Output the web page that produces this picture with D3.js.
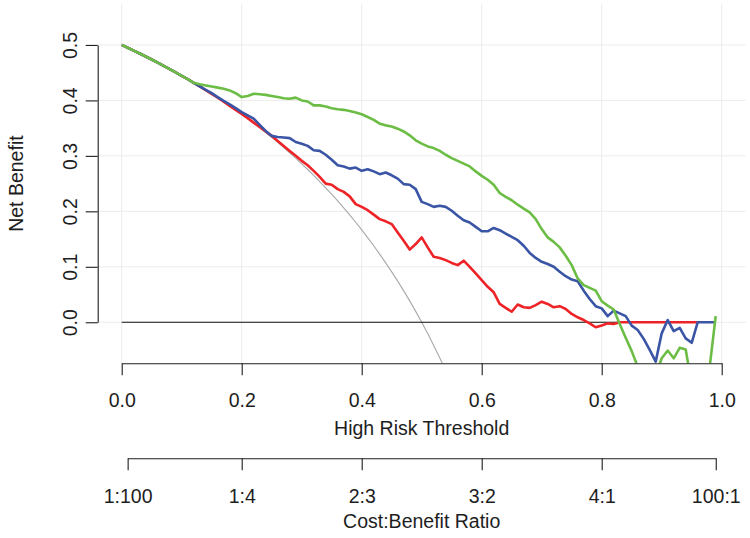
<!DOCTYPE html>
<html><head><meta charset="utf-8">
<script src="https://cdn.jsdelivr.net/npm/d3@7"></script>
<style>html,body{margin:0;padding:0;background:#fff;}svg{display:block;}</style>
</head><body>
<script>
const thresholds = [0,0.01,0.02,0.03,0.04,0.05,0.06,0.07,0.08,0.09,0.1,0.11,0.12,0.13,0.14,0.15,0.16,0.17,0.18,0.19,0.2,0.21,0.22,0.23,0.24,0.25,0.26,0.27,0.28,0.29,0.3,0.31,0.32,0.33,0.34,0.35,0.36,0.37,0.38,0.39,0.4,0.41,0.42,0.43,0.44,0.45,0.46,0.47,0.48,0.49,0.5,0.51,0.52,0.53,0.54,0.55,0.56,0.57,0.58,0.59,0.6,0.61,0.62,0.63,0.64,0.65,0.66,0.67,0.68,0.69,0.7,0.71,0.72,0.73,0.74,0.75,0.76,0.77,0.78,0.79,0.8,0.81,0.82,0.83,0.84,0.85,0.86,0.87,0.88,0.89,0.9,0.91,0.92,0.93,0.94,0.95,0.96,0.97,0.98,0.99];

const treatAll = [0.5,0.4949,0.4898,0.4845,0.4792,0.4737,0.4681,0.4624,0.4565,0.4505,0.4444,0.4382,0.4318,0.4253,0.4186,0.4118,0.4048,0.3976,0.3902,0.3827,0.375,0.3671,0.359,0.3506,0.3421,0.3333,0.3243,0.3151,0.3056,0.2958,0.2857,0.2754,0.2647,0.2537,0.2424,0.2308,0.2188,0.2063,0.1935,0.1803,0.1667,0.1525,0.1379,0.1228,0.1071,0.0909,0.0741,0.0566,0.0385,0.0196,0,-0.0204,-0.0417,-0.0638,-0.087,-0.1111];

const treatNone = 0;

const redValues = [0.5,0.4949,0.4898,0.4845,0.4792,0.4737,0.4681,0.4624,0.4565,0.4505,0.4444,0.4382,0.4318,
0.4253,0.4186,0.4118,0.4048,0.3976,0.3902,0.3827,0.3755,0.368,0.360,0.352,0.344,0.336,0.327,0.318,0.309,0.300,
0.291,0.283,0.273,0.262,0.250,0.248,0.240,0.235,0.227,0.213,0.208,0.202,0.194,0.186,0.182,0.177,0.162,0.147,0.131,0.141,
0.153,0.135,0.118,0.116,0.112,0.107,0.103,0.111,0.100,0.088,
0.076,0.064,0.054,0.033,0.026,0.019,0.032,0.027,0.026,0.031,
0.037,0.033,0.027,0.029,0.024,0.015,0.009,0.004,-0.002,-0.009,
-0.006,-0.002,-0.003,0,0,0,0,0,0,0,
0,0,0,0,0,0,0];

const blueValues = [0.5,0.4949,0.4898,0.4845,0.4792,0.4737,0.4681,0.4624,0.4565,0.4505,0.4444,0.4382,0.4318,
0.4255,0.419,0.413,0.406,0.399,0.393,0.386,0.379,0.373,0.367,0.356,0.345,0.336,0.334,0.333,0.332,0.325,
0.322,0.318,0.310,0.309,0.302,0.293,0.283,0.281,0.277,0.279,0.273,0.276,0.272,0.267,0.270,0.265,0.259,0.249,0.248,0.240,
0.217,0.213,0.208,0.210,0.208,0.201,0.192,0.184,0.180,0.172,
0.164,0.164,0.170,0.166,0.160,0.154,0.148,0.138,0.125,0.116,
0.109,0.105,0.100,0.091,0.083,0.077,0.074,0.057,0.042,0.029,
0.025,0.011,0.021,0.016,0.011,-0.006,-0.014,-0.030,-0.050,-0.071,
-0.020,0.004,-0.016,-0.010,-0.029,-0.037,0,0,0,0];

const greenValues = [0.5,0.4949,0.4898,0.4845,0.4792,0.4737,0.4681,0.4624,0.4565,0.4505,0.4444,0.4382,0.4318,
0.429,0.427,0.425,0.423,0.421,0.418,0.413,0.406,0.408,0.412,0.411,0.410,0.408,0.406,0.404,0.403,0.405,0.400,0.398,0.391,0.391,
0.389,0.386,0.384,0.383,0.381,0.378,0.375,0.370,0.365,0.358,0.355,0.353,0.349,0.344,0.337,0.328,
0.322,0.317,0.314,0.309,0.302,0.296,0.291,0.286,0.281,0.272,0.264,0.257,0.248,0.233,0.226,0.220,0.212,0.205,0.198,
0.186,0.168,0.153,0.145,0.135,0.120,0.103,0.079,0.067,0.062,0.057,0.038,0.030,0.023,
-0.003,-0.028,-0.052,-0.080,-0.110,-0.120,-0.095,-0.065,-0.051,-0.065,-0.046,-0.049,-0.112,-0.150,-0.130,-0.080,0.011];

const xTicks = [0, 0.2, 0.4, 0.6, 0.8, 1.0];
const xTickLabels = ["0.0","0.2","0.4","0.6","0.8","1.0"];
const yTicks = [0, 0.1, 0.2, 0.3, 0.4, 0.5];
const yTickLabels = ["0.0","0.1","0.2","0.3","0.4","0.5"];
const costTicks = [1/101, 0.2, 0.4, 0.6, 0.8, 100/101];
const costTickLabels = ["1:100","1:4","2:3","3:2","4:1","100:1"];

const W = 750, H = 538;
const FONT = "'Liberation Sans', Arial, Helvetica, sans-serif";
const FS = 19.5;
const AX = "#1e1e1e";

const svg = d3.select("body").append("svg").attr("width", W).attr("height", H)
  .style("font-family", FONT);

// plot region: xlim [0,1] and ylim [-0.05,0.55] each extended by 4%
const x = d3.scaleLinear().domain([-0.04, 1.04]).range([97.7, 745.7]);
const y = d3.scaleLinear().domain([-0.074, 0.574]).range([363.3, 3.9]);

const [px0, px1] = x.range();
const [py0, py1] = y.range();

svg.append("defs").append("clipPath").attr("id", "plotclip")
  .append("rect").attr("x", px0).attr("y", py1).attr("width", px1 - px0).attr("height", py0 - py1);

// grid
const grid = svg.append("g").attr("stroke", "#ececec").attr("stroke-width", 1);
grid.selectAll("line.v").data(xTicks).join("line").attr("class","v")
  .attr("x1", d => x(d)).attr("x2", d => x(d)).attr("y1", py1).attr("y2", py0);
grid.selectAll("line.h").data(yTicks).join("line").attr("class","h")
  .attr("x1", px0).attr("x2", px1).attr("y1", d => y(d)).attr("y2", d => y(d));

const plot = svg.append("g").attr("clip-path", "url(#plotclip)");

function drawSeries(vals, color, width) {
  const line = d3.line().x((d, i) => x(thresholds[i])).y(d => y(d));
  plot.append("path").datum(vals).attr("d", line)
    .attr("fill", "none").attr("stroke", color).attr("stroke-width", width)
    .attr("stroke-linejoin", "round").attr("stroke-linecap", "butt");
}

drawSeries(treatAll, "#a8a8a8", 1.1);
// treat none
plot.append("path").datum(thresholds)
  .attr("d", d3.line().x(d => x(d)).y(() => y(treatNone)))
  .attr("fill", "none").attr("stroke", "#111").attr("stroke-width", 1.2);
drawSeries(redValues, "#ee2327", 2.6);
drawSeries(blueValues, "#3a55a5", 2.6);
drawSeries(greenValues, "#6cbd45", 2.6);

// y axis
const yAxisScale = y.copy();
const gy = svg.append("g").attr("transform", `translate(${px0},0)`)
  .call(d3.axisLeft(y.copy().domain([0,0.5]).range([y(0), y(0.5)])).tickValues(yTicks).tickSize(12).tickSizeOuter(0)
    .tickFormat((d, i) => yTickLabels[i]));
gy.select(".domain").attr("stroke", AX).attr("stroke-width", 1.1);
gy.selectAll(".tick line").attr("stroke", AX).attr("stroke-width", 1.1);
gy.selectAll(".tick text").attr("fill", AX).style("font-size", FS + "px").style("font-family", FONT)
  .attr("x", null).attr("dy", null)
  .attr("text-anchor", "middle")
  .attr("transform", "translate(-20.7,0) rotate(-90)");

svg.append("text").text("Net Benefit")
  .attr("transform", `translate(23.3,${(py0 + py1) / 2}) rotate(-90)`)
  .attr("text-anchor", "middle").attr("fill", AX).style("font-size", FS + "px");

// x axis
const gx = svg.append("g").attr("transform", `translate(0,${py0})`)
  .call(d3.axisBottom(x.copy().domain([0,1]).range([x(0), x(1)])).tickValues(xTicks).tickSize(12).tickSizeOuter(0)
    .tickFormat((d, i) => xTickLabels[i]));
gx.select(".domain").attr("stroke", AX).attr("stroke-width", 1.1);
gx.selectAll(".tick line").attr("stroke", AX).attr("stroke-width", 1.1);
gx.selectAll(".tick text").attr("fill", AX).style("font-size", FS + "px").style("font-family", FONT)
  .attr("y", 406.7 - py0).attr("dy", null);

svg.append("text").text("High Risk Threshold")
  .attr("x", (px0 + px1) / 2).attr("y", 435).attr("text-anchor", "middle")
  .attr("fill", AX).style("font-size", FS + "px");

// cost:benefit axis
const costY = 458.3;
const gc = svg.append("g").attr("transform", `translate(0,${costY})`)
  .call(d3.axisBottom(x.copy().domain([costTicks[0], costTicks[costTicks.length-1]]).range([x(costTicks[0]), x(costTicks[costTicks.length-1])]))
    .tickValues(costTicks).tickSize(12).tickSizeOuter(0)
    .tickFormat((d, i) => costTickLabels[i]));
gc.select(".domain").attr("stroke", AX).attr("stroke-width", 1.1);
gc.selectAll(".tick line").attr("stroke", AX).attr("stroke-width", 1.1);
gc.selectAll(".tick text").attr("fill", AX).style("font-size", FS + "px").style("font-family", FONT)
  .attr("y", 503.3 - costY).attr("dy", null);

svg.append("text").text("Cost:Benefit Ratio")
  .attr("x", (px0 + px1) / 2).attr("y", 528.3).attr("text-anchor", "middle")
  .attr("fill", AX).style("font-size", FS + "px");
</script>
</body></html>
